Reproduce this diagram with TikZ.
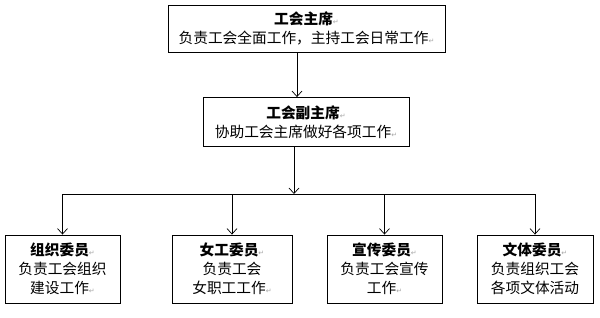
\documentclass[tikz,border=0pt]{standalone}
\usepackage{fontspec}
\setmainfont{Noto Sans CJK SC}
\newfontfamily\dejavu{DejaVu Sans}
\usetikzlibrary{arrows.meta}
\newcommand\parmk{{\dejavu\fontsize{7}{7}\selectfont\textcolor{black!35}{↵}}}
\tikzset{
  box/.style={draw, line width=0.9pt, align=center, inner sep=0pt, font=\fontsize{14.7}{18.5}\selectfont},
  lowbox/.style={box, minimum height=68pt, font=\fontsize{14.7}{19}\selectfont},
  conn/.style={line width=0.7pt},
  arr/.style={conn, -{Straight Barb[length=5.5pt,width=10pt,line width=0.7pt]}},
}
\begin{document}
\begin{tikzpicture}[x=1pt,y=-1pt]
\useasboundingbox (0,0) rectangle (600,317);
\node[box, minimum width=277pt, minimum height=47pt] (top) at (306.5,28.5)
  {\textbf{工会主席}\parmk\\负责工会全面工作，主持工会日常工作\parmk};
\node[box, minimum width=206pt, minimum height=49pt] (mid) at (306,122)
  {\textbf{工会副主席}\parmk\\协助工会主席做好各项工作\parmk};
\node[lowbox, minimum width=115pt] (b1) at (62.5,269)
  {\textbf{组织委员}\parmk\\负责工会组织\\建设工作\parmk};
\node[lowbox, minimum width=120pt] (b2) at (232,269)
  {\textbf{女工委员}\parmk\\负责工会\\女职工工作\parmk};
\node[lowbox, minimum width=115pt] (b3) at (384.5,269)
  {\textbf{宣传委员}\parmk\\负责工会宣传\\工作\parmk};
\node[lowbox, minimum width=116pt] (b4) at (535,269)
  {\textbf{文体委员}\parmk\\负责组织工会\\各项文体活动};
\coordinate (ax1) at (297,0);
\coordinate (ax2) at (294,0);
\coordinate (bar) at (0,194);
\draw[arr] (top.south -| ax1) -- (mid.north -| ax1);
\draw[arr] (mid.south -| ax2) -- (bar -| ax2);
\draw[conn] (bar -| b1) -- (bar -| b4);
\draw[arr] (bar -| b1) -- (b1.north);
\draw[arr] (bar -| b2) -- (b2.north);
\draw[arr] (bar -| b3) -- (b3.north);
\draw[arr] (bar -| b4) -- (b4.north);
\end{tikzpicture}
\end{document}
